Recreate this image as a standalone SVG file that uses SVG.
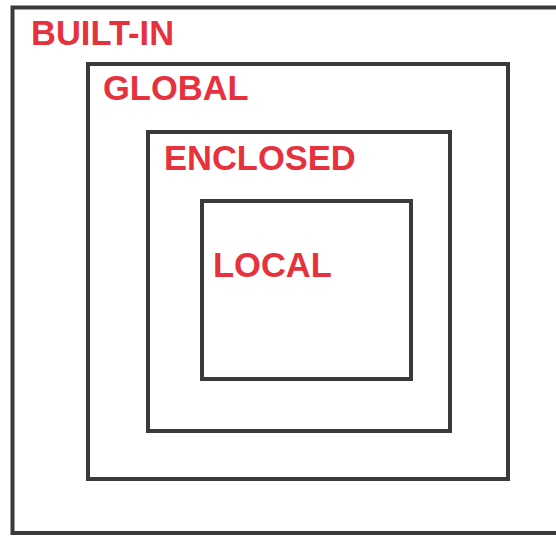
<svg xmlns="http://www.w3.org/2000/svg" width="556" height="536" viewBox="0 0 556 536">
<style>
.box{fill:none;stroke:#3a3a3a;stroke-width:4}
.lbl{font-family:"Liberation Sans",Arial,sans-serif;font-weight:bold;font-size:34.5px;fill:#e5323c}
</style>
<rect width="556" height="536" fill="#ffffff"/>
<g id="builtin"><rect class="box" x="12.5" y="7.5" width="552" height="525.5"/><text class="lbl" x="31" y="45">BUILT-IN</text></g>
<g id="global"><rect class="box" x="88" y="64" width="420" height="415"/><text class="lbl" x="103" y="100">GLOBAL</text></g>
<g id="enclosed"><rect class="box" x="148" y="132" width="302" height="299"/><text class="lbl" x="164" y="170">ENCLOSED</text></g>
<g id="local"><rect class="box" x="202" y="201" width="209" height="178"/><text class="lbl" x="213" y="277">LOCAL</text></g>
<g id="connectors"/>
</svg>
